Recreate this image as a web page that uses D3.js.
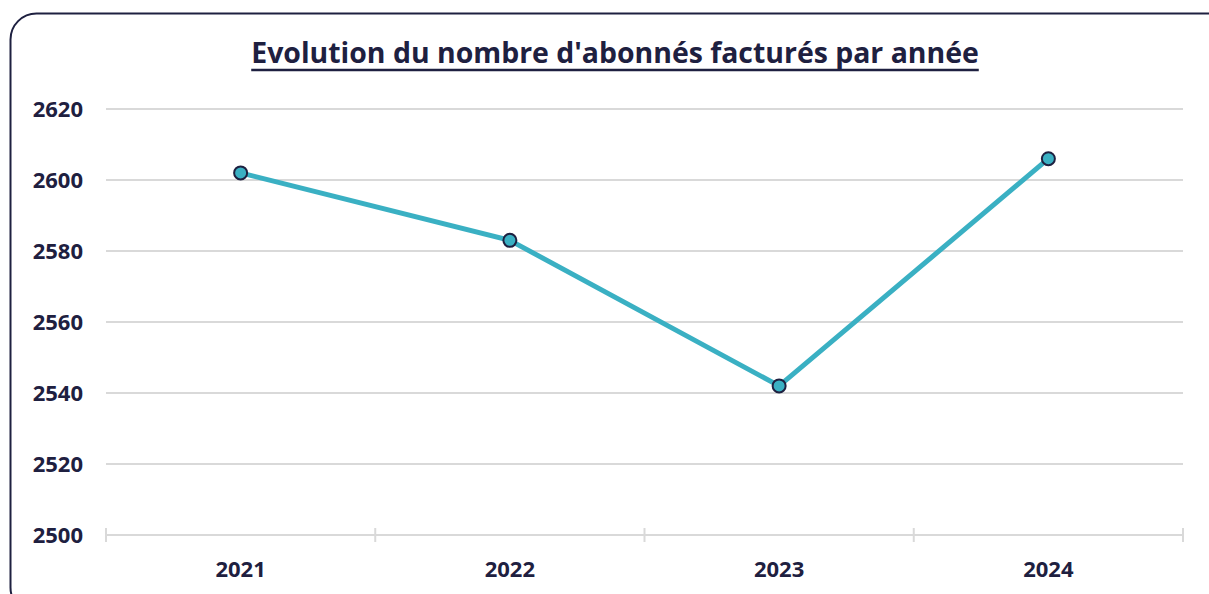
<!DOCTYPE html>
<html>
<head>
<meta charset="utf-8">
<script src="https://cdn.jsdelivr.net/npm/d3@7"></script>
<style>
  body { margin: 0; background: #fff; }
  svg { display: block; font-family: "Open Sans", Lato, sans-serif; }
</style>
</head>
<body>
<div class="chart"></div>
<script>
const years = ["2021", "2022", "2023", "2024"];
const subscribers = [2602, 2583, 2542, 2606];
const yTicks = [2500, 2520, 2540, 2560, 2580, 2600, 2620];

const width = 1209, height = 594;
const ink = "#1e2040";
const margin = {top: 109, right: 26, bottom: 59, left: 106};

const svg = d3.select(".chart")
    .append("svg")
    .attr("width", width)
    .attr("height", height);

// frame
svg.append("rect")
    .attr("x", 10.5)
    .attr("y", 13.5)
    .attr("width", 1222)
    .attr("height", 600)
    .attr("rx", 26)
    .attr("fill", "none")
    .attr("stroke", ink)
    .attr("stroke-width", 2);

const x = d3.scaleBand()
    .domain(years)
    .range([margin.left, width - margin.right]);

const y = d3.scaleLinear()
    .domain([2500, 2620])
    .range([height - margin.bottom, margin.top]);

// gridlines
svg.append("g")
    .selectAll("line")
    .data(yTicks.slice(1))
    .join("line")
    .attr("x1", margin.left)
    .attr("x2", width - margin.right)
    .attr("y1", d => y(d))
    .attr("y2", d => y(d))
    .attr("stroke", "#d9d9d9")
    .attr("stroke-width", 2);

// y labels
svg.append("g")
    .attr("font-size", 22)
    .attr("font-weight", "bold")
    .attr("fill", ink)
    .attr("text-anchor", "end")
    .selectAll("text")
    .data(yTicks)
    .join("text")
    .attr("x", 83)
    .attr("y", d => y(d))
    .attr("dy", "0.36em")
    .text(d => d);

// x axis line + ticks at band edges
const xAxis = svg.append("g").attr("stroke", "#d9d9d9").attr("stroke-width", 2);
xAxis.append("line")
    .attr("x1", margin.left)
    .attr("x2", width - margin.right)
    .attr("y1", y(2500))
    .attr("y2", y(2500));
const edges = years.map(d => x(d)).concat([x(years[years.length - 1]) + x.bandwidth()]);
xAxis.selectAll(".tick")
    .data(edges)
    .join("line")
    .attr("class", "tick")
    .attr("x1", d => d)
    .attr("x2", d => d)
    .attr("y1", y(2500) - 7)
    .attr("y2", y(2500) + 7);

// x labels
svg.append("g")
    .attr("font-size", 22)
    .attr("font-weight", "bold")
    .attr("fill", ink)
    .attr("text-anchor", "middle")
    .selectAll("text")
    .data(years)
    .join("text")
    .attr("x", d => x(d) + x.bandwidth() / 2)
    .attr("y", 577)
    .text(d => d);

// line
const pts = years.map((d, i) => ({year: d, value: subscribers[i]}));
const line = d3.line()
    .x(d => x(d.year) + x.bandwidth() / 2)
    .y(d => y(d.value));

svg.append("path")
    .datum(pts)
    .attr("d", line)
    .attr("fill", "none")
    .attr("stroke", "#3ab0c3")
    .attr("stroke-width", 5)
    .attr("stroke-linejoin", "round");

svg.append("g")
    .selectAll("circle")
    .data(pts)
    .join("circle")
    .attr("cx", d => x(d.year) + x.bandwidth() / 2)
    .attr("cy", d => y(d.value))
    .attr("r", 6.5)
    .attr("fill", "#3ab0c3")
    .attr("stroke", ink)
    .attr("stroke-width", 2);

// title, sized to the reference width
const title = svg.append("text")
    .attr("x", 615)
    .attr("y", 63)
    .attr("text-anchor", "middle")
    .attr("font-size", 25)
    .attr("font-weight", "bold")
    .attr("fill", ink)
    .text("Evolution du nombre d'abonnés facturés par année");

let w = title.node().getComputedTextLength();
title.attr("font-size", Math.min(30, 25 * 728 / w));

const bb = title.node().getBBox();
svg.append("line")
    .attr("x1", bb.x)
    .attr("x2", bb.x + bb.width)
    .attr("y1", 70)
    .attr("y2", 70)
    .attr("stroke", ink)
    .attr("stroke-width", 2.5);
</script>
</body>
</html>
